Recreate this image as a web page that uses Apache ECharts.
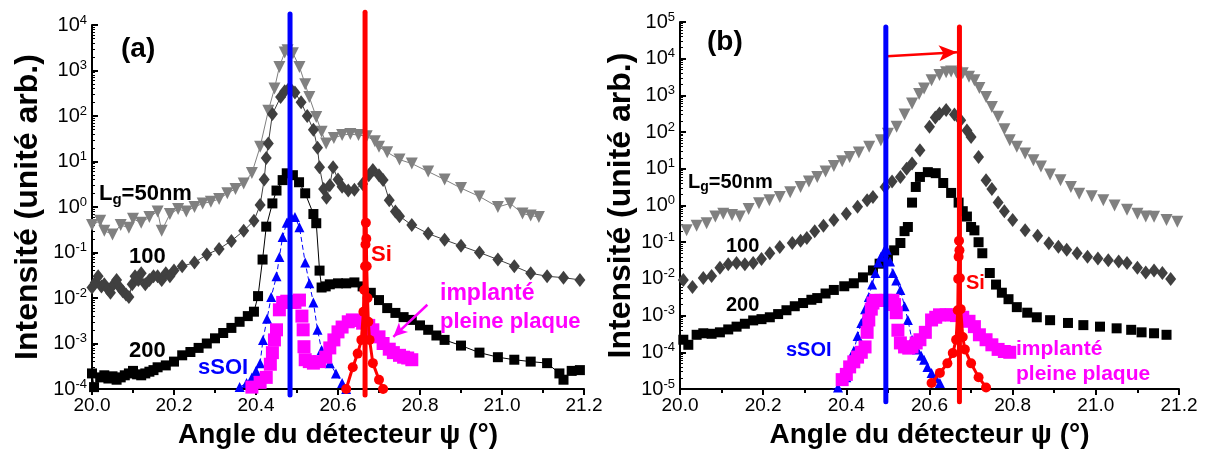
<!DOCTYPE html>
<html><head><meta charset="utf-8">
<script src="https://cdn.jsdelivr.net/npm/echarts@6/dist/echarts.min.js"></script>
<style>html,body{margin:0;padding:0;background:#fff}#c{width:1209px;height:455px}</style>
</head><body><div id="c"></div>
<script>
// ---------- Panel (a) data ----------
const xTickLabels = ['20.0','20.2','20.4','20.6','20.8','21.0','21.2'];
const a50x = [20.00,20.02,20.03,20.05,20.07,20.09,20.10,20.12,20.14,20.16,20.17,20.19,20.21,20.23,20.25,20.27,20.29,20.31,20.33,20.35,20.37,20.39,20.41,20.43,20.445,20.457,20.47,20.477,20.49,20.506,20.52,20.53,20.547,20.56,20.571,20.59,20.61,20.63,20.65,20.67,20.69,20.70,20.72,20.75,20.78,20.82,20.86,20.90,20.945,20.99,21.02,21.05,21.07,21.09];
const a50y = [0.4,0.5,0.3,0.25,0.4,0.35,0.55,0.45,0.6,0.8,0.3,0.7,0.9,0.8,1.0,1.2,1.3,1.5,2.0,2.5,3.3,5.6,21,130,400,1200,2500,2800,2400,1200,500,260,95,45,25,33,38,40,38,36,28,21,16,11,9,6,4,2.6,1.7,1.0,1.2,0.72,0.65,0.6];
const a100x = [20.00,20.008,20.015,20.023,20.03,20.038,20.045,20.053,20.06,20.068,20.075,20.083,20.09,20.098,20.105,20.113,20.12,20.13,20.14,20.15,20.16,20.17,20.18,20.19,20.20,20.22,20.25,20.28,20.31,20.34,20.37,20.395,20.41,20.42,20.425,20.43,20.44,20.46,20.47,20.482,20.495,20.51,20.525,20.54,20.55,20.555,20.565,20.572,20.58,20.588,20.60,20.61,20.625,20.64,20.66,20.675,20.685,20.70,20.71,20.725,20.74,20.75,20.78,20.82,20.86,20.90,20.945,20.99,21.03,21.07,21.11,21.15,21.19];
const a100y = [0.017,0.022,0.03,0.018,0.02,0.016,0.013,0.02,0.025,0.017,0.014,0.012,0.0105,0.02,0.03,0.025,0.035,0.02,0.025,0.03,0.03,0.025,0.035,0.03,0.04,0.05,0.06,0.09,0.12,0.18,0.3,0.5,1.1,4,12,25,110,260,350,420,330,200,100,50,20,7.5,2.5,1.6,3,7.5,4,2.8,2.3,2.4,3.2,5,6.5,5,3.9,1.4,0.8,0.63,0.4,0.26,0.19,0.14,0.1,0.07,0.05,0.035,0.03,0.028,0.025];
const a200x = [20.00,20.005,20.02,20.03,20.04,20.05,20.06,20.07,20.08,20.09,20.10,20.11,20.12,20.13,20.14,20.15,20.16,20.18,20.20,20.22,20.24,20.26,20.28,20.30,20.32,20.34,20.36,20.38,20.395,20.405,20.416,20.425,20.44,20.45,20.465,20.475,20.49,20.505,20.52,20.54,20.547,20.555,20.56,20.57,20.58,20.60,20.62,20.64,20.66,20.68,20.70,20.72,20.74,20.76,20.78,20.80,20.82,20.84,20.86,20.90,20.945,20.99,21.03,21.07,21.11,21.14,21.15,21.17,21.19];
const a200y = [2.2e-4,1.1e-4,1.8e-4,2e-4,1.7e-4,1.9e-4,1.6e-4,1.8e-4,2e-4,2.2e-4,2.5e-4,2.1e-4,2e-4,2.2e-4,2.4e-4,2.6e-4,3e-4,3.3e-4,4e-4,5.5e-4,6.5e-4,8e-4,1e-3,1.3e-3,1.7e-3,2.2e-3,3e-3,4e-3,5e-3,0.011,0.07,0.37,1.2,2.3,3.9,5.5,5,3.5,2,0.7,0.44,0.04,0.017,0.018,0.02,0.021,0.021,0.022,0.018,0.013,0.009,0.006,0.0047,0.0038,0.0033,0.0025,0.002,0.0015,0.0012,9e-4,6.3e-4,5e-4,4.4e-4,4e-4,3.7e-4,2.2e-4,1.6e-4,2.5e-4,2.6e-4];
const aSoiX = [20.36,20.377,20.39,20.40,20.41,20.417,20.427,20.437,20.45,20.457,20.465,20.475,20.485,20.495,20.506,20.52,20.53,20.54,20.55,20.56,20.58,20.595,20.61,20.62];
const aSoiY = [1.1e-4,1.35e-4,1.8e-4,2.5e-4,3.7e-4,1.2e-3,3.5e-3,0.0105,0.03,0.08,0.22,0.45,0.62,0.6,0.36,0.06,0.021,8e-3,2e-3,7.2e-4,3.7e-4,2.2e-4,1.35e-4,1e-4];
const aImpX = [20.39,20.41,20.425,20.435,20.44,20.445,20.45,20.457,20.465,20.475,20.485,20.495,20.506,20.512,20.515,20.517,20.52,20.53,20.54,20.555,20.57,20.58,20.59,20.60,20.61,20.625,20.635,20.65,20.66,20.675,20.685,20.70,20.71,20.725,20.735,20.75,20.76,20.77,20.78];
const aImpY = [1.1e-4,1.4e-4,1.8e-4,3.5e-4,6.3e-4,1.2e-3,2e-3,5.5e-3,8e-3,8.5e-3,8e-3,8e-3,9e-3,4e-3,2e-3,8.5e-4,4.4e-4,4e-4,3.7e-4,4e-4,5e-4,8e-4,1.2e-3,1.8e-3,2.3e-3,3e-3,3.3e-3,3.2e-3,2.8e-3,2.5e-3,2e-3,1.4e-3,1e-3,7.5e-4,6.3e-4,5.5e-4,5e-4,4.8e-4,4.4e-4];
const aSiX = [20.62,20.636,20.648,20.657,20.662,20.664,20.666,20.667,20.668,20.669,20.67,20.672,20.674,20.677,20.685,20.70,20.71];
const aSiY = [1e-4,3e-4,6e-4,1.2e-3,5e-3,0.015,0.05,0.15,0.45,0.2,0.05,0.01,3e-3,1.2e-3,3.7e-4,1.6e-4,1e-4];
const aBlueLine = [[20.483,1.75e4],[20.483,7.4e-5]];
const aRedLine = [[20.666,1.9e4],[20.666,7.4e-5]];
const aArrow = [[20.818,7.1e-3],[20.735,1.4e-3]];

// ---------- Panel (b) data ----------
const b50x = [20.016,20.04,20.064,20.085,20.104,20.125,20.144,20.165,20.19,20.215,20.24,20.265,20.29,20.31,20.33,20.35,20.37,20.39,20.408,20.43,20.455,20.483,20.50,20.521,20.54,20.558,20.575,20.587,20.605,20.624,20.64,20.652,20.665,20.68,20.695,20.708,20.72,20.736,20.75,20.765,20.78,20.793,20.81,20.83,20.85,20.868,20.89,20.915,20.94,20.96,20.99,21.018,21.045,21.075,21.10,21.12,21.14,21.17,21.196];
const b50y = [0.21,0.28,0.33,0.5,0.6,0.55,0.5,0.8,1.15,1.4,1.7,2.3,3.2,4.5,6,8.5,12,16,21,28,40,60,90,140,300,600,1100,1550,2600,3600,4300,4500,4200,4000,3200,2600,1600,900,480,260,120,60,40,26,17,11.5,7,4.9,3.2,2.1,1.8,1.4,1.0,0.76,0.6,0.5,0.49,0.4,0.36];
const b100x = [20.008,20.03,20.056,20.076,20.096,20.116,20.136,20.156,20.176,20.196,20.216,20.24,20.27,20.29,20.305,20.324,20.345,20.37,20.40,20.427,20.45,20.464,20.493,20.51,20.53,20.545,20.558,20.577,20.60,20.614,20.624,20.64,20.66,20.675,20.69,20.70,20.718,20.736,20.75,20.765,20.78,20.80,20.83,20.86,20.887,20.91,20.93,20.955,20.98,21.005,21.03,21.055,21.075,21.10,21.12,21.14,21.16,21.18,21.205];
const b100y = [0.0093,0.006,0.0105,0.012,0.02,0.025,0.027,0.025,0.027,0.035,0.05,0.074,0.095,0.11,0.13,0.2,0.28,0.4,0.6,0.93,1.4,1.7,3.2,4.5,6,10,14,32,140,250,320,400,300,210,110,74,21,4.9,2.8,1.2,0.7,0.4,0.21,0.15,0.093,0.075,0.062,0.05,0.04,0.036,0.032,0.03,0.027,0.02,0.015,0.017,0.0145,0.01,0.0083];
const b200x = [20.008,20.02,20.04,20.056,20.076,20.096,20.116,20.136,20.156,20.176,20.196,20.216,20.236,20.256,20.276,20.296,20.316,20.33,20.35,20.37,20.395,20.418,20.44,20.464,20.48,20.50,20.515,20.53,20.54,20.548,20.558,20.567,20.577,20.596,20.615,20.633,20.652,20.67,20.68,20.69,20.70,20.708,20.718,20.727,20.745,20.76,20.774,20.79,20.81,20.835,20.858,20.89,20.933,20.97,21.01,21.05,21.085,21.11,21.14,21.17,21.205];
const b200y = [2.2e-4,1.6e-4,3e-4,3.3e-4,3.2e-4,3.5e-4,4.2e-4,5e-4,6e-4,7.4e-4,8e-4,9e-4,1.1e-3,1.4e-3,1.8e-3,2.2e-3,2.7e-3,3e-3,4e-3,5e-3,6.3e-3,7.6e-3,0.011,0.017,0.026,0.04,0.06,0.095,0.2,0.26,1.2,3.2,6,8.1,7.6,4.1,2.2,1.2,0.7,0.5,0.26,0.21,0.1,0.05,0.0145,7e-3,4.2e-3,2.8e-3,1.7e-3,1.2e-3,9e-4,7.5e-4,6.3e-4,5.5e-4,5e-4,4.5e-4,4.1e-4,3.5e-4,3.3e-4,3e-4,3.3e-4];
const bSoiX = [20.36,20.38,20.40,20.41,20.418,20.427,20.436,20.445,20.454,20.462,20.47,20.477,20.483,20.49,20.497,20.505,20.512,20.52,20.53,20.54,20.548,20.558,20.57,20.58,20.587,20.595,20.605,20.615,20.625];
const bSoiY = [9.3e-6,1.1e-5,2.1e-5,5e-5,1.1e-4,2.8e-4,6.3e-4,1.5e-3,3.2e-3,7e-3,0.0145,0.028,0.04,0.055,0.062,0.03,0.0145,9e-3,5e-3,1.8e-3,7.6e-4,2.2e-4,1.2e-4,8e-5,6.3e-5,4e-5,2.75e-5,2e-5,1.45e-5];
const bImpX = [20.39,20.40,20.408,20.418,20.427,20.436,20.445,20.45,20.454,20.46,20.464,20.47,20.483,20.495,20.505,20.512,20.516,20.52,20.524,20.53,20.54,20.55,20.558,20.568,20.577,20.59,20.605,20.615,20.624,20.64,20.652,20.665,20.68,20.695,20.708,20.72,20.736,20.75,20.765,20.78,20.793];
const bImpY = [1.8e-5,2.5e-5,4e-5,5.5e-5,7.4e-5,1e-4,1.4e-4,3.5e-4,7.6e-4,1.5e-3,2.2e-3,2.6e-3,2.6e-3,2.6e-3,2.6e-3,2.6e-3,2e-3,1.2e-3,4e-4,1.8e-4,1.4e-4,1.3e-4,1.4e-4,1.8e-4,2.2e-4,3.5e-4,7.6e-4,9e-4,1.05e-3,1.05e-3,1.05e-3,1e-3,9e-4,7e-4,5e-4,3e-4,2.2e-4,1.6e-4,1.2e-4,1.05e-4,1e-4];
const bSiX = [20.605,20.625,20.643,20.656,20.664,20.668,20.669,20.67,20.671,20.672,20.673,20.675,20.68,20.685,20.70,20.718,20.736];
const bSiY = [1.45e-5,2.75e-5,5e-5,9.5e-5,2.2e-4,1.4e-3,0.01,0.04,0.11,0.06,0.0105,1.5e-3,2.6e-4,1.2e-4,5e-5,2.1e-5,1.1e-5];
const bBlueLine = [[20.495,7.3e4],[20.495,4.5e-6]];
const bRedLine = [[20.672,7.3e4],[20.672,4.5e-6]];
const bArrow = [[20.498,1.17e4],[20.666,1.5e4]];

// ---------- chart ----------
const FONT = '"Liberation Sans", Arial, sans-serif';
const zip = (xs, ys) => xs.map((x, i) => [x, ys[i]]);
const chart = echarts.init(document.getElementById('c'), null, {renderer: 'canvas'});

function xAx(gi) {
  return {
    type: 'value', gridIndex: gi, min: 20, max: 21.2, interval: 0.2,
    name: 'Angle du détecteur ψ (°)', nameLocation: 'middle', nameGap: 32,
    nameTextStyle: {fontFamily: FONT, fontWeight: 'bold', fontSize: 28, color: '#000'},
    axisLine: {onZero: false, lineStyle: {color: '#000', width: 2}},
    axisTick: {inside: false, length: 6, lineStyle: {color: '#000', width: 2}},
    minorTick: {show: true, splitNumber: 2, length: 4, lineStyle: {color: '#000', width: 2}},
    splitLine: {show: false},
    axisLabel: {fontFamily: FONT, fontSize: 19, color: '#000', margin: 7,
      formatter: v => xTickLabels[Math.round((v - 20) / 0.2)] || ''}
  };
}
function yAx(gi, mn, mx, gap) {
  return {
    type: 'log', logBase: 10, gridIndex: gi, min: mn, max: mx, interval: 1,
    name: 'Intensité (unité arb.)', nameLocation: 'middle', nameGap: gap,
    nameTextStyle: {fontFamily: FONT, fontWeight: 'bold', fontSize: 32, color: '#000'},
    axisLine: {lineStyle: {color: '#000', width: 2}},
    axisTick: {inside: true, length: 6, lineStyle: {color: '#000', width: 2}},
    minorTick: {show: true, splitNumber: 9, length: 3, lineStyle: {color: '#000', width: 1}},
    splitLine: {show: false},
    axisLabel: {fontFamily: FONT, fontSize: 20, color: '#000', margin: 5,
      formatter: v => '{b|10}{s|' + Math.round(Math.log10(v)) + '}',
      rich: {b: {fontFamily: FONT, fontSize: 20, color: '#000'},
             s: {fontFamily: FONT, fontSize: 13, color: '#000', padding: [0, 0, 10, 0]}}}
  };
}

function sc(name, gi, data, o) {
  return Object.assign({
    name, type: 'line', xAxisIndex: gi, yAxisIndex: gi, data,
    showSymbol: true, animation: false, silent: true,
  }, o);
}
function vline(gi, data, color, w) {
  return {type: 'line', xAxisIndex: gi, yAxisIndex: gi, data, symbol: 'none', clip: false,
    silent: true, animation: false, z: 5, lineStyle: {color, width: w, cap: 'round'}};
}
const GRAY = '#808080', DARK = '#404040', BLUE = '#0000ff', MAG = '#ff00ff', RED = '#ff0000';

const series = [];
[[0, {s50: zip(a50x, a50y), s100: zip(a100x, a100y), s200: zip(a200x, a200y), soi: zip(aSoiX, aSoiY), imp: zip(aImpX, aImpY), si: zip(aSiX, aSiY), bl: aBlueLine, rl: aRedLine, ar: aArrow, lines: true}],
 [1, {s50: zip(b50x, b50y), s100: zip(b100x, b100y), s200: zip(b200x, b200y), soi: zip(bSoiX, bSoiY), imp: zip(bImpX, bImpY), si: zip(bSiX, bSiY), bl: bBlueLine, rl: bRedLine, ar: bArrow, lines: false}]
].forEach(([gi, d]) => {
  const lw = d.lines ? 1 : 0;
  series.push(sc('Lg=50nm', gi, d.s50, {symbol: 'triangle', symbolRotate: 180, symbolSize: 12,
    itemStyle: {color: GRAY}, lineStyle: {color: GRAY, width: lw}}));
  series.push(sc('100', gi, d.s100, {symbol: 'diamond', symbolSize: [11, 14],
    itemStyle: {color: DARK}, lineStyle: {color: DARK, width: lw}}));
  series.push(sc('200', gi, d.s200, {symbol: 'rect', symbolSize: 10,
    itemStyle: {color: '#000'}, lineStyle: {color: '#000', width: lw}}));
  series.push(sc('sSOI', gi, d.soi, {symbol: 'triangle', symbolSize: 10,
    itemStyle: {color: BLUE}, lineStyle: {color: BLUE, width: 1, type: [5, 3]}}));
  series.push(sc('implanté pleine plaque', gi, d.imp, {symbol: 'rect', symbolSize: 13,
    itemStyle: {color: MAG}, lineStyle: {color: MAG, width: 0},
    markLine: gi === 0 ? {silent: true, animation: false, symbol: ['none', 'arrow'], symbolSize: [10, 14],
      label: {show: false}, lineStyle: {color: MAG, width: 2.5, type: 'solid'},
      data: [[{coord: d.ar[0]}, {coord: d.ar[1]}]]} : undefined}));
  series.push(vline(gi, d.bl, BLUE, 5));
  series.push(vline(gi, d.rl, RED, 5));
  series.push(sc('Si', gi, d.si, {symbol: 'circle', symbolSize: 10, z: 6,
    itemStyle: {color: RED}, lineStyle: {color: RED, width: 3},
    markLine: gi === 1 ? {silent: true, animation: false, symbol: ['none', 'arrow'], symbolSize: [12, 18],
      label: {show: false}, lineStyle: {color: RED, width: 2.5, type: 'solid'},
      data: [[{coord: d.ar[0]}, {coord: d.ar[1]}]]} : undefined}));
});

function txt(x, y, text, color, size) {
  return {type: 'text', x, y, z: 100, silent: true,
    style: {text, fill: color, font: 'bold ' + size + 'px ' + FONT, textVerticalAlign: 'middle'}};
}
function lg(x, y, size) {
  return {type: 'text', x, y, z: 100, silent: true, style: {
    text: '{m|L}{s|g}{m|=50nm}', textVerticalAlign: 'middle',
    rich: {m: {fontFamily: FONT, fontWeight: 'bold', fontSize: size, fill: '#000', color: '#000'},
           s: {fontFamily: FONT, fontWeight: 'bold', fontSize: Math.round(size * 0.68), fill: '#000', color: '#000', padding: [11, 0, 0, 0]}}}};
}

chart.setOption({
  animation: false,
  backgroundColor: '#fff',
  grid: [
    {left: 92, top: 25, width: 492, height: 364},
    {left: 680, top: 22, width: 499, height: 367}
  ],
  xAxis: [xAx(0), xAx(1)],
  yAxis: [yAx(0, 1e-4, 1e4, 48), yAx(1, 1e-5, 1e5, 37)],
  series,
  graphic: [
    txt(121, 49, '(a)', '#000', 28),
    txt(707, 42, '(b)', '#000', 28),
    lg(99, 194, 22),
    txt(129, 257, '100', '#000', 22),
    txt(129, 351, '200', '#000', 22),
    txt(198, 368, 'sSOI', BLUE, 22),
    txt(371, 255, 'Si', RED, 22),
    txt(440, 294, 'implanté', MAG, 23),
    txt(440, 322, 'pleine plaque', MAG, 22),
    lg(688, 182, 20),
    txt(726, 246, '100', '#000', 20),
    txt(726, 305, '200', '#000', 20),
    txt(786, 350, 'sSOI', BLUE, 20),
    txt(966, 283, 'Si', RED, 20),
    txt(1016, 349, 'implanté', MAG, 21),
    txt(1016, 374, 'pleine plaque', MAG, 21)
  ]
});
</script></body></html>
